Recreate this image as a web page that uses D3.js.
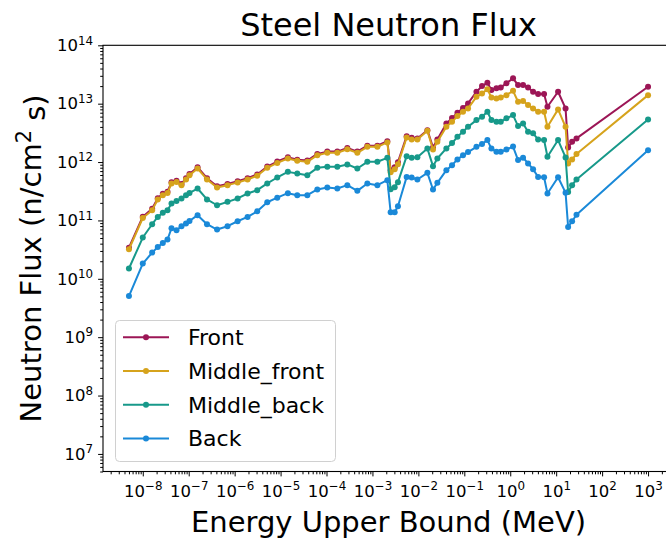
<!DOCTYPE html>
<html>
<head>
<meta charset="utf-8">
<script src="https://cdn.jsdelivr.net/npm/d3@7"></script>
<style>
  html, body { margin: 0; padding: 0; background: #fff; }
  svg { display: block; font-family: "DejaVu Sans", sans-serif; }
</style>
</head>
<body>
<svg id="chart" width="666" height="539"></svg>
<script>
// Upper bound of each energy group (MeV)
const energies = [
  5.0e-9, 1.0e-8, 1.6e-8, 2.12e-8, 2.73e-8, 3.45e-8, 4.22e-8, 5.42e-8, 6.97e-8, 8.73e-8,
  1.04e-7, 1.56e-7, 2.5e-7, 4.14e-7, 7.0e-7, 1.16e-6, 1.91e-6, 3.1e-6, 5.13e-6, 8.47e-6,
  1.44e-5, 2.31e-5, 3.82e-5, 6.31e-5, 1.04e-4, 1.72e-4, 2.84e-4, 4.69e-4, 7.74e-4, 1.28e-3,
  2.11e-3, 2.49e-3, 3.05e-3, 3.59e-3, 5.56e-3, 7.14e-3, 9.51e-3, 1.57e-2, 2.08e-2, 2.59e-2,
  4.07e-2, 5.4e-2, 7.08e-2, 9.37e-2, 0.1205, 0.1837, 0.243, 0.318, 0.389, 0.5,
  0.621, 0.826, 1.15, 1.48, 1.9, 2.44, 3.14, 4.04, 5.45, 6.46,
  11.0, 16.0, 18.2, 22.2, 27.7, 1000
];

// Group flux per region (n/cm^2 s)
const front = [
  3.4e10, 1.16e11, 1.58e11, 2.41e11, 2.85e11, 3.11e11, 4.52e11, 4.8e11, 4.22e11, 5.28e11,
  6.26e11, 8.15e11, 5.28e11, 3.85e11, 4.22e11, 4.69e11, 5.28e11, 6.14e11, 8.36e11, 1.02e12,
  1.21e12, 1.1e12, 1.06e12, 1.38e12, 1.51e12, 1.51e12, 1.74e12, 1.51e12, 1.91e12, 1.91e12,
  2.28e12, 7.26e11, 8.18e11, 9.96e11, 2.78e12, 2.62e12, 2.54e12, 3.52e12, 1.78e12, 2.44e12,
  4.59e12, 5.66e12, 6.98e12, 8.41e12, 1.01e13, 1.6e13, 2.0e13, 2.28e13, 1.71e13, 1.83e13,
  1.9e13, 2.23e13, 2.72e13, 2.08e13, 2.08e13, 1.9e13, 1.6e13, 1.46e13, 1.46e13, 8.85e12,
  1.6e13, 8.3e12, 1.78e12, 2.22e12, 2.54e12, 1.95e13
];
const middleFront = [
  3.21e10, 1.1e11, 1.5e11, 2.29e11, 2.71e11, 2.96e11, 4.3e11, 4.57e11, 4.02e11, 5.03e11,
  5.96e11, 7.76e11, 5.03e11, 3.67e11, 4.02e11, 4.47e11, 5.03e11, 5.85e11, 7.96e11, 9.68e11,
  1.15e12, 1.05e12, 1.01e12, 1.31e12, 1.44e12, 1.44e12, 1.66e12, 1.44e12, 1.82e12, 1.82e12,
  2.17e12, 6.71e11, 7.55e11, 9.2e11, 2.64e12, 2.44e12, 2.44e12, 3.43e12, 1.64e12, 2.22e12,
  4.02e12, 4.89e12, 6.13e12, 7.26e12, 8.3e12, 1.31e13, 1.5e13, 1.76e13, 1.28e13, 1.23e13,
  1.28e13, 1.4e13, 1.66e13, 1.08e13, 1.11e13, 9.46e12, 8.3e12, 7.26e12, 7.26e12, 4.02e12,
  7.98e12, 4.02e12, 9.46e11, 1.11e12, 1.37e12, 1.4e13
];
const middleBack = [
  1.5e10, 5.09e10, 8.61e10, 1.15e11, 1.35e11, 1.5e11, 1.95e11, 2.16e11, 2.38e11, 2.71e11,
  2.96e11, 3.52e11, 2.29e11, 1.82e11, 2.08e11, 2.38e11, 2.89e11, 3.3e11, 4.3e11, 5.44e11,
  6.79e11, 6.37e11, 5.96e11, 7.96e11, 8.28e11, 8.28e11, 9.1e11, 7.76e11, 1.01e12, 1.01e12,
  1.18e12, 3.43e11, 3.71e11, 4.52e11, 1.26e12, 1.19e12, 1.21e12, 1.71e12, 8.51e11, 1.15e12,
  1.71e12, 2.11e12, 2.71e12, 3.32e12, 4.02e12, 5.23e12, 5.96e12, 7.26e12, 5.23e12, 4.89e12,
  4.89e12, 5.6e12, 6.37e12, 4.13e12, 4.59e12, 3.3e12, 3.1e12, 2.44e12, 2.38e12, 1.23e12,
  2.38e12, 1.2e12, 3.08e11, 4.02e11, 5.03e11, 5.38e12
];
const back = [
  5.07e9, 1.82e10, 2.81e10, 3.51e10, 4.11e10, 4.7e10, 7.35e10, 6.79e10, 7.96e10, 8.85e10,
  9.8e10, 1.23e11, 8.61e10, 6.98e10, 7.96e10, 9.68e10, 1.15e11, 1.43e11, 2.05e11, 2.45e11,
  2.93e11, 2.71e11, 2.71e11, 3.39e11, 3.67e11, 3.52e11, 4.02e11, 3.21e11, 4.3e11, 4.02e11,
  4.89e11, 1.38e11, 1.38e11, 1.75e11, 5.57e11, 5.44e11, 5.03e11, 6.53e11, 3.39e11, 4.4e11,
  7.26e11, 8.85e11, 1.11e12, 1.31e12, 1.48e12, 1.82e12, 2.03e12, 2.38e12, 1.7e12, 1.5e12,
  1.5e12, 1.64e12, 1.84e12, 1.08e12, 1.19e12, 9.46e11, 7.55e11, 5.57e11, 5.5e11, 2.89e11,
  5.5e11, 2.99e11, 7.74e10, 9.68e10, 1.25e11, 1.6e12
];

const seriesNames = ["Front", "Middle_front", "Middle_back", "Back"];
const seriesValues = [front, middleFront, middleBack, back];
const seriesColors = ["#9c1656", "#d6a31c", "#17998a", "#1a89d8"];

// Decade tick positions
const xMajorExps = d3.range(-8, 4);
const yMajorExps = d3.range(7, 15);

const svg = d3.select("#chart");
const plotLeft = 103, plotTop = 45.3, plotRight = 674, plotBottom = 471.5;

const x = d3.scaleLog().domain([Math.pow(10, -8.866), Math.pow(10, 3.565)]).range([plotLeft, plotRight]);
const y = d3.scaleLog().domain([5e6, 1e14]).range([plotBottom, plotTop]);

function minorTicks(scale) {
  const [a, b] = scale.domain();
  const out = [];
  for (let e = Math.floor(Math.log10(a)); e <= Math.ceil(Math.log10(b)); e++) {
    for (let m = 2; m <= 9; m++) {
      const v = m * Math.pow(10, e);
      if (v >= a && v <= b) out.push(v);
    }
  }
  return out;
}

// Power-of-ten label with a superscript exponent
function powerLabel(sel, exp) {
  sel.text(null);
  sel.append("tspan").text("10");
  sel.append("tspan")
    .attr("dy", "-0.55em")
    .attr("font-size", "0.72em")
    .text(exp < 0 ? "\u2212" + (-exp) : String(exp));
}

// Lines and markers
const line = d3.line()
  .x((d, i) => x(energies[i]))
  .y(d => y(d));

const plot = svg.append("g");
seriesValues.forEach((vals, s) => {
  plot.append("path")
    .datum(vals)
    .attr("fill", "none")
    .attr("stroke", seriesColors[s])
    .attr("stroke-width", 2)
    .attr("stroke-linejoin", "round")
    .attr("d", line);
  plot.append("g").selectAll("circle")
    .data(vals)
    .join("circle")
    .attr("cx", (d, i) => x(energies[i]))
    .attr("cy", d => y(d))
    .attr("r", 3)
    .attr("fill", seriesColors[s]);
});

// Y axis
svg.append("g").attr("transform", `translate(${plotLeft},0)`)
  .call(d3.axisLeft(y).tickValues(minorTicks(y)).tickSize(2.8).tickFormat(""));
const yMajor = svg.append("g").attr("transform", `translate(${plotLeft},0)`)
  .call(d3.axisLeft(y).tickValues(yMajorExps.map(e => Math.pow(10, e))).tickSize(4.9).tickPadding(5));
yMajor.selectAll(".tick text")
  .attr("font-size", 16.5)
  .attr("font-family", "DejaVu Sans")
  .attr("fill", "#000")
  .each(function(d) { powerLabel(d3.select(this), Math.round(Math.log10(d))); });

// X axis
svg.append("g").attr("transform", `translate(0,${plotBottom})`)
  .call(d3.axisBottom(x).tickValues(minorTicks(x)).tickSize(2.8).tickFormat(""));
const xMajor = svg.append("g").attr("transform", `translate(0,${plotBottom})`)
  .call(d3.axisBottom(x).tickValues(xMajorExps.map(e => Math.pow(10, e))).tickSize(4.9).tickPadding(5));
xMajor.selectAll(".tick text")
  .attr("font-size", 16.5)
  .attr("font-family", "DejaVu Sans")
  .attr("fill", "#000")
  .attr("dy", "0.93em")
  .each(function(d) { powerLabel(d3.select(this), Math.round(Math.log10(d))); });

svg.selectAll(".domain").remove();
svg.selectAll(".tick line").attr("stroke", "#000").attr("stroke-width", 1);

// Frame
svg.append("rect")
  .attr("x", plotLeft).attr("y", plotTop)
  .attr("width", plotRight - plotLeft).attr("height", plotBottom - plotTop)
  .attr("fill", "none").attr("stroke", "#000").attr("stroke-width", 1.1);

// Titles
svg.append("text")
  .attr("x", (plotLeft + plotRight) / 2).attr("y", 36)
  .attr("text-anchor", "middle").attr("font-size", 32)
  .text("Steel Neutron Flux");

svg.append("text")
  .attr("x", (plotLeft + plotRight) / 2).attr("y", 532)
  .attr("text-anchor", "middle").attr("font-size", 29)
  .text("Energy Upper Bound (MeV)");

const yl = svg.append("text")
  .attr("transform", `translate(41,${(plotTop + plotBottom) / 2}) rotate(-90)`)
  .attr("text-anchor", "middle").attr("font-size", 29);
yl.append("tspan").text("Neutron Flux (n/cm");
yl.append("tspan").attr("dy", "-0.5em").attr("font-size", "0.72em").text("2");
yl.append("tspan").attr("dy", "0.5em").text(" s)");

// Legend
const lg = svg.append("g");
lg.append("rect")
  .attr("x", 115.5).attr("y", 320.5).attr("width", 220).attr("height", 141)
  .attr("rx", 4).attr("fill", "#fff").attr("fill-opacity", 0.8)
  .attr("stroke", "#d0d0d0").attr("stroke-width", 1);
seriesNames.forEach((name, i) => {
  const cy = 337.3 + i * 33.7;
  lg.append("line")
    .attr("x1", 123).attr("x2", 169).attr("y1", cy).attr("y2", cy)
    .attr("stroke", seriesColors[i]).attr("stroke-width", 2);
  lg.append("circle").attr("cx", 146).attr("cy", cy).attr("r", 3).attr("fill", seriesColors[i]);
  lg.append("text")
    .attr("x", 188).attr("y", cy + 8)
    .attr("font-size", 22)
    .text(name);
});
</script>
</body>
</html>
